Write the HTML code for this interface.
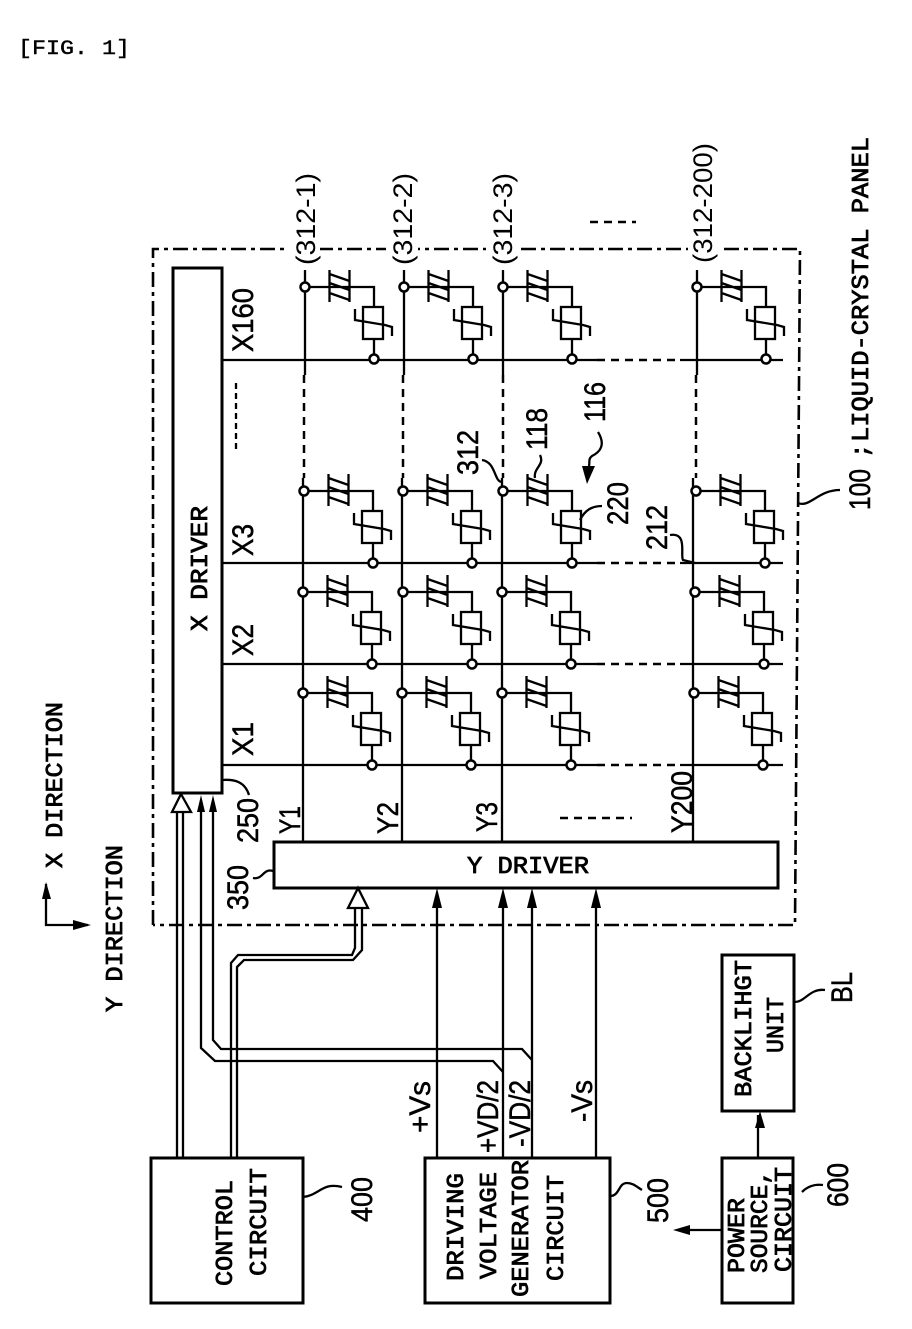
<!DOCTYPE html>
<html>
<head>
<meta charset="utf-8">
<style>
html,body{margin:0;padding:0;background:#fff}
svg{display:block}
.l{fill:none;stroke:#000;stroke-width:2.300}
.t{stroke-width:3}
.d{stroke-dasharray:8 6;stroke-width:2.500}
.m{font-family:"Liberation Mono",monospace;font-size:24px;fill:#000;stroke:#000;stroke-width:.8px}
.s{font-family:"Liberation Sans",sans-serif;font-size:30px;fill:#000;stroke:#000;stroke-width:.5px}
.p{font-family:"Liberation Sans",sans-serif;font-size:27px;fill:#000}
.w{fill:#fff}
</style>
</head>
<body>
<svg width="912" height="1329" viewBox="0 0 912 1329" xmlns="http://www.w3.org/2000/svg">
<defs>
<g id="c">
<path class="l" d="M0 0H69V20M69 52V72M24.500 -17V15M44.500 -17V15M24.500 -13L44.500 -6M24.500 -4L44.500 3M24.500 6L44.500 13"/>
<rect class="l" x="58" y="20" width="20" height="32" fill="#fff"/>
<path class="l" d="M50 22V33L80 38L87 40V49"/>
<circle cx="0" cy="0" r="4.500" fill="#fff" stroke="#000" stroke-width="2.500"/>
<circle cx="69" cy="72" r="4.500" fill="#fff" stroke="#000" stroke-width="2.500"/>
</g>
</defs>
<rect width="912" height="1329" fill="#fff"/>

<!-- panel -->
<path class="l" d="M153 925V249H800L795 925H153" stroke-dasharray="15 5 4 5" style="stroke-width:2.600"/>

<!-- Y lines -->
<path class="l" d="M305 270V375M303 478V842M404 270V375M402 478V842M503 270V375M502 478V842M697 270V375M693 478V842"/>
<path class="l d" d="M304 375V478M403 375V478M503 375V478M696 375V478"/>
<!-- X lines -->
<path class="l" d="M222 360H597M680 360H783M222 563H597M680 563H783M222 664H597M680 664H783M222 765H597M680 765H783"/>
<path class="l d" d="M597 360H680M597 563H680M597 664H680M597 765H680"/>

<!-- cells -->
<use href="#c" transform="translate(305,287)"/><use href="#c" transform="translate(404,287)"/><use href="#c" transform="translate(503,287)"/><use href="#c" transform="translate(697,287)"/>
<use href="#c" transform="translate(304,491)"/><use href="#c" transform="translate(403,491)"/><use href="#c" transform="translate(503,491)"/><use href="#c" transform="translate(696,491)"/>
<use href="#c" transform="translate(303,592)"/><use href="#c" transform="translate(403,592)"/><use href="#c" transform="translate(502,592)"/><use href="#c" transform="translate(695,592)"/>
<use href="#c" transform="translate(303,693)"/><use href="#c" transform="translate(402,693)"/><use href="#c" transform="translate(502,693)"/><use href="#c" transform="translate(694,693)"/>

<!-- boxes -->
<rect class="l t" x="173" y="268" width="49" height="525" fill="#fff"/>
<rect class="l t" x="274" y="842" width="504" height="46" fill="#fff"/>
<rect class="l t" x="151" y="1158" width="152" height="145"/>
<rect class="l t" x="425" y="1158" width="185" height="145"/>
<rect class="l t" x="722" y="1158" width="71" height="145"/>
<rect class="l t" x="722" y="955" width="72" height="156"/>

<!-- wiring -->
<path class="l" d="M177 1158V812M183 1158V812"/>
<path d="M181 794L191 812H172Z" fill="#fff" stroke="#000" stroke-width="2.300"/>
<path class="l" d="M231 1158V963L238 955H352L355 948V908M237 1158V967L244 960H353L362 950V908"/>
<path d="M358 888L368 908H348Z" fill="#fff" stroke="#000" stroke-width="2.300"/>
<path class="l" d="M201 812V1048L215 1061H493L503 1072M213 812V1040L221 1049H522L532 1060"/>
<path d="M201 795L205 812H197ZM213 795L217 812H209Z" fill="#000"/>
<path class="l" d="M437 1158V895M503 1158V895M532 1158V895M596 1158V895"/>
<path d="M437 888L442 908H432ZM503 888L508 908H498ZM532 888L537 908H527ZM596 888L601 908H591Z" fill="#000"/>
<path class="l" d="M758 1158V1115M722 1230H678"/>
<path d="M760 1111L765 1128H755ZM673 1230L690 1225V1235Z" fill="#000"/>

<!-- axes -->
<path class="l" d="M46 884V925H88"/>
<path d="M46 882L51 899H42ZM91 925L73 920V930Z" fill="#000"/>

<!-- leaders -->
<path class="l" d="M222 780C235 779 245 782 249 795M273 871C263 868 263 880 253 878M303 1197C320 1195 322 1182 342 1187M610 1196C620 1196 618 1183 627 1183C633 1183 637 1187 642 1190M802 1192C808 1186 815 1184 823 1185M795 1002C805 1002 810 988 825 990M798 503C810 508 818 490 840 490M482 460C496 462 494 482 502 482M540 455C545 465 533 468 535 478M598 432C606 445 600 452 592 456C588 459 590 462 589 466M580 520C585 510 592 506 602 506M670 535C688 532 680 555 683 560L695 563"/>
<path d="M582 466H595L587 484Z" fill="#000"/>

<!-- dashes -->
<path class="l d" d="M590 222H636M560 818H632"/>
<path class="l" d="M236 383V450" stroke-dasharray="6 4"/>

<!-- panel gaps behind rotated refs -->
<rect class="w" x="288" y="238" width="32" height="22"/>
<rect class="w" x="386" y="238" width="32" height="22"/>
<rect class="w" x="486" y="238" width="32" height="22"/>
<rect class="w" x="688" y="238" width="32" height="22"/>

<!-- text -->
<text class="m" x="18" y="54" textLength="112" lengthAdjust="spacingAndGlyphs" style="font-size:20px;stroke-width:.4px">[FIG. 1]</text>

<text class="m" transform="translate(62,868) rotate(-90)" textLength="166" lengthAdjust="spacingAndGlyphs">X DIRECTION</text>
<text class="m" transform="translate(122,1012) rotate(-90)" textLength="167" lengthAdjust="spacingAndGlyphs">Y DIRECTION</text>
<text class="m" transform="translate(207,631) rotate(-90)" textLength="125" lengthAdjust="spacingAndGlyphs">X DRIVER</text>
<text class="m" x="467" y="873" textLength="122" lengthAdjust="spacingAndGlyphs">Y DRIVER</text>
<text class="m" transform="translate(232,1286) rotate(-90)" textLength="106" lengthAdjust="spacingAndGlyphs">CONTROL</text>
<text class="m" transform="translate(266,1276) rotate(-90)" textLength="108" lengthAdjust="spacingAndGlyphs">CIRCUIT</text>
<text class="m" transform="translate(463,1281) rotate(-90)" textLength="108" lengthAdjust="spacingAndGlyphs">DRIVING</text>
<text class="m" transform="translate(496,1279) rotate(-90)" textLength="107" lengthAdjust="spacingAndGlyphs">VOLTAGE</text>
<text class="m" transform="translate(528,1297) rotate(-90)" textLength="137" lengthAdjust="spacingAndGlyphs">GENERATOR</text>
<text class="m" transform="translate(563,1281) rotate(-90)" textLength="106" lengthAdjust="spacingAndGlyphs">CIRCUIT</text>
<text class="m" transform="translate(744,1273) rotate(-90)" textLength="75" lengthAdjust="spacingAndGlyphs">POWER</text>
<text class="m" transform="translate(767,1273) rotate(-90)" textLength="103" lengthAdjust="spacingAndGlyphs">SOURCE,</text>
<text class="m" transform="translate(791,1272) rotate(-90)" textLength="105" lengthAdjust="spacingAndGlyphs">CIRCUIT</text>
<text class="m" transform="translate(751,1097) rotate(-90)" textLength="137" lengthAdjust="spacingAndGlyphs">BACKLIHGT</text>
<text class="m" transform="translate(783,1053) rotate(-90)" textLength="56" lengthAdjust="spacingAndGlyphs">UNIT</text>
<text class="m" transform="translate(868,442) rotate(-90)" textLength="305" lengthAdjust="spacingAndGlyphs">LIQUID-CRYSTAL PANEL</text>
<text class="m" transform="translate(868,458) rotate(-90)">;</text>

<text class="s" transform="translate(870,510) rotate(-90)" textLength="41" lengthAdjust="spacingAndGlyphs">100</text>
<text class="s" transform="translate(852,1003) rotate(-90)" textLength="31" lengthAdjust="spacingAndGlyphs">BL</text>
<text class="s" transform="translate(848,1207) rotate(-90)" textLength="44" lengthAdjust="spacingAndGlyphs">600</text>
<text class="s" transform="translate(668,1223) rotate(-90)" textLength="45" lengthAdjust="spacingAndGlyphs">500</text>
<text class="s" transform="translate(372,1222) rotate(-90)" textLength="45" lengthAdjust="spacingAndGlyphs">400</text>
<text class="s" transform="translate(258,843) rotate(-90)" textLength="45" lengthAdjust="spacingAndGlyphs">250</text>
<text class="s" transform="translate(248,910) rotate(-90)" textLength="45" lengthAdjust="spacingAndGlyphs">350</text>
<text class="s" transform="translate(478,475) rotate(-90)" textLength="45" lengthAdjust="spacingAndGlyphs">312</text>
<text class="s" transform="translate(547,450) rotate(-90)" textLength="42" lengthAdjust="spacingAndGlyphs">118</text>
<text class="s" transform="translate(605,422) rotate(-90)" textLength="40" lengthAdjust="spacingAndGlyphs">116</text>
<text class="s" transform="translate(628,525) rotate(-90)" textLength="43" lengthAdjust="spacingAndGlyphs">220</text>
<text class="s" transform="translate(667,550) rotate(-90)" textLength="45" lengthAdjust="spacingAndGlyphs">212</text>

<text class="s" transform="translate(253,352) rotate(-90)" textLength="64" lengthAdjust="spacingAndGlyphs">X160</text>
<text class="s" transform="translate(253,556) rotate(-90)" textLength="32" lengthAdjust="spacingAndGlyphs">X3</text>
<text class="s" transform="translate(253,656) rotate(-90)" textLength="32" lengthAdjust="spacingAndGlyphs">X2</text>
<text class="s" transform="translate(253,756) rotate(-90)" textLength="34" lengthAdjust="spacingAndGlyphs">X1</text>
<text class="s" transform="translate(300,834) rotate(-90)" textLength="28" lengthAdjust="spacingAndGlyphs">Y1</text>
<text class="s" transform="translate(398,834) rotate(-90)" textLength="32" lengthAdjust="spacingAndGlyphs">Y2</text>
<text class="s" transform="translate(497,832) rotate(-90)" textLength="30" lengthAdjust="spacingAndGlyphs">Y3</text>
<text class="s" transform="translate(692,833) rotate(-90)" textLength="62" lengthAdjust="spacingAndGlyphs">Y200</text>

<text class="s" transform="translate(430,1133) rotate(-90)" textLength="52" lengthAdjust="spacingAndGlyphs">+Vs</text>
<text class="s" transform="translate(498,1153) rotate(-90)" textLength="73" lengthAdjust="spacingAndGlyphs">+VD/2</text>
<text class="s" transform="translate(530,1147) rotate(-90)" textLength="67" lengthAdjust="spacingAndGlyphs">-VD/2</text>
<text class="s" transform="translate(592,1122) rotate(-90)" textLength="42" lengthAdjust="spacingAndGlyphs">-Vs</text>

<text class="p" transform="translate(315,265) rotate(-90)" textLength="92" lengthAdjust="spacingAndGlyphs">(312-1)</text>
<text class="p" transform="translate(412,265) rotate(-90)" textLength="92" lengthAdjust="spacingAndGlyphs">(312-2)</text>
<text class="p" transform="translate(512,265) rotate(-90)" textLength="92" lengthAdjust="spacingAndGlyphs">(312-3)</text>
<text class="p" transform="translate(712,263) rotate(-90)" textLength="120" lengthAdjust="spacingAndGlyphs">(312-200)</text>
</svg>
</body>
</html>
